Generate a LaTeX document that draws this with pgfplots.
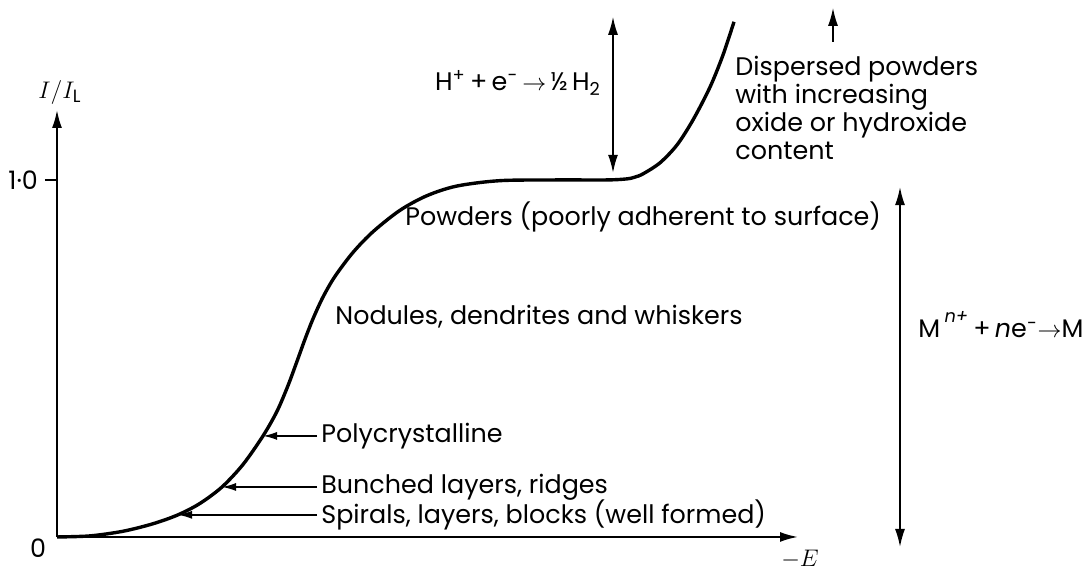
\documentclass[border=0pt]{standalone}
\usepackage{fontspec}
\setmainfont{Poppins}
\usepackage{pgfplots}
\pgfplotsset{compat=1.18}
\usetikzlibrary{arrows.meta}

% deposit current-potential curve (normalised current vs. cathodic potential)
\pgfplotstableread{
x     y
0.00  0.000
0.33  0.003
0.66  0.016
0.96  0.037
1.21  0.062
1.43  0.094
1.65  0.140
1.86  0.203
2.06  0.283
2.20  0.352
2.31  0.424
2.40  0.492
2.48  0.554
2.56  0.611
2.66  0.672
2.78  0.730
2.96  0.797
3.16  0.855
3.43  0.915
3.70  0.956
4.00  0.983
4.43  0.998
5.00  1.000
5.50  1.000
5.70  1.003
5.78  1.008
5.86  1.017
6.03  1.048
6.20  1.098
6.36  1.168
6.53  1.260
6.66  1.350
6.77  1.443
}\curve

\begin{document}
\begin{tikzpicture}[font=\fontsize{12.7}{14}\selectfont]
\begin{axis}[
  scale only axis,
  width=370.5pt, height=213.5pt,
  xmin=0, xmax=7.41, ymin=0, ymax=1.196,
  axis x line=bottom, axis y line=left,
  axis line style={line width=1pt, -{Latex[length=9pt,width=5pt]}},
  xtick=\empty,
  ytick={1}, yticklabels={1·0},
  tick align=outside, major tick length=6pt,
  tick style={line width=1pt, black},
  clip=false,
]
\addplot[smooth, tension=0.5, line width=1.7pt, black] table[x=x, y=y] {\curve};

% growth-form labels pointing at the rising part of the curve
\draw[line width=0.8pt, -{Latex[length=7pt,width=4pt]}] (axis cs:2.60,0.062) -- (axis cs:1.21,0.062);
\draw[line width=0.8pt, -{Latex[length=7pt,width=4pt]}] (axis cs:2.60,0.140) -- (axis cs:1.65,0.140);
\draw[line width=0.8pt, -{Latex[length=7pt,width=4pt]}] (axis cs:2.60,0.283) -- (axis cs:2.06,0.283);
\node[anchor=west, inner sep=1pt] at (axis cs:2.62,0.062) {Spirals, layers, blocks (well formed)};
\node[anchor=west, inner sep=1pt] at (axis cs:2.62,0.140) {Bunched layers, ridges};
\node[anchor=west, inner sep=1pt] at (axis cs:2.62,0.283) {Polycrystalline};
\node[anchor=west, inner sep=0pt] at (axis cs:2.78,0.616) {Nodules, dendrites and whiskers};
\node[anchor=west, inner sep=0pt] at (axis cs:3.48,0.896) {Powders (poorly adherent to surface)};

% hydrogen evolution above the limiting current
\draw[line width=0.8pt, {Latex[length=9pt,width=5pt]}-{Latex[length=9pt,width=5pt]}] (axis cs:5.56,1.02) -- (axis cs:5.56,1.457);
\node at (axis cs:4.61,1.272) {H\textsuperscript{+}\,+\,e\textsuperscript{−}\,$\rightarrow$\,½\,H\textsubscript{2}};

\draw[line width=0.8pt, -{Latex[length=9pt,width=5pt]}] (axis cs:7.76,1.387) -- (axis cs:7.76,1.482);
\node[anchor=north west, align=left, inner sep=0pt] at (axis cs:6.78,1.348)
  {Dispersed powders\\with increasing\\oxide or hydroxide\\content};

% metal deposition range
\draw[line width=0.8pt, {Latex[length=9pt,width=5pt]}-{Latex[length=9pt,width=5pt]}] (axis cs:8.43,-0.028) -- (axis cs:8.43,0.98);
\node[anchor=west, inner sep=0pt] at (axis cs:8.61,0.595) {M\,\raisebox{0.5ex}{\textsuperscript{\itshape n+}}\,+\,{\itshape n}e\textsuperscript{−}$\rightarrow$M};

% axis labels
\node at (axis cs:7.43,-0.062) {$-E$};
\node at (axis cs:-0.19,-0.031) {0};
\node at (axis cs:0.03,1.246) {$I/I_{\mathrm{L}}$};

\coordinate (bl) at (axis cs:-0.57,-0.0952);
\coordinate (tr) at (axis cs:10.34,1.504);
\end{axis}
\pgfresetboundingbox
\path[use as bounding box] (bl) rectangle (tr);
\end{tikzpicture}
\end{document}
